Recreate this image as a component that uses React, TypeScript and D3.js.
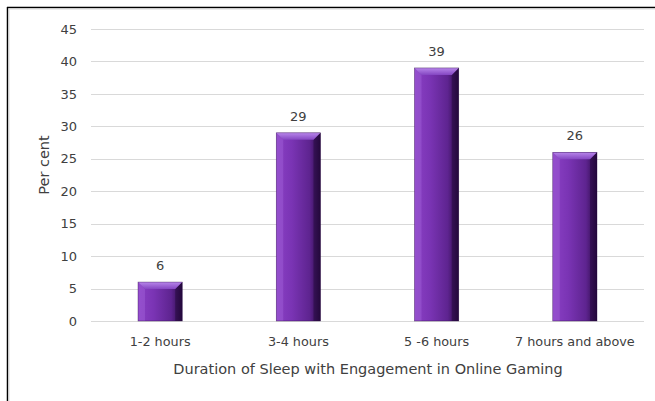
import React from "react";
import * as d3 from "d3";

const categories = ["1-2 hours", "3-4 hours", "5 -6 hours", "7 hours and above"];
const values = [6, 29, 39, 26];
const yTicks = [0, 5, 10, 15, 20, 25, 30, 35, 40, 45];
const xTitle = "Duration of Sleep with Engagement in Online Gaming";
const yTitle = "Per cent";

const W = 655;
const H = 401;
const FONT = "'DejaVu Sans', Verdana, sans-serif";
const TEXT = "#404040";

export default function App() {
  const x = d3
    .scaleBand<string>()
    .domain(categories)
    .range([91, 644])
    .paddingInner(0.68)
    .paddingOuter(0.34);
  const y = d3.scaleLinear().domain([0, 45]).range([321, 29]);
  const bw = x.bandwidth();
  const bevel = 7;

  return (
    <svg
      width={W}
      height={H}
      style={{ position: "absolute", left: 0, top: 0, background: "#fff" }}
    >
      <defs>
        <linearGradient id="barBody" x1="0" x2="1" y1="0" y2="0">
          <stop offset="0" stopColor="#8a40c4" />
          <stop offset="0.35" stopColor="#7a34b4" />
          <stop offset="0.75" stopColor="#5e2490" />
          <stop offset="1" stopColor="#2a0a44" />
        </linearGradient>
        <linearGradient id="barTop" x1="0" x2="0" y1="0" y2="1">
          <stop offset="0" stopColor="#b886ea" />
          <stop offset="1" stopColor="#8446c2" />
        </linearGradient>
      </defs>

      {/* chart frame */}
      <line x1={7} x2={W} y1={7.5} y2={7.5} stroke="#000" strokeWidth={1.5} />
      <line x1={7.5} x2={7.5} y1={7} y2={H} stroke="#000" strokeWidth={1.5} />
      <line x1={8.5} x2={W} y1={9} y2={9} stroke="#d9d9d9" strokeWidth={1} />
      <line x1={9} x2={9} y1={8.5} y2={H} stroke="#d9d9d9" strokeWidth={1} />

      {/* gridlines and y tick labels */}
      {yTicks.map((t) => (
        <g key={t}>
          <line
            x1={91}
            x2={644}
            y1={Math.round(y(t)) + 0.5}
            y2={Math.round(y(t)) + 0.5}
            stroke="#d9d9d9"
            strokeWidth={1.2}
          />
          <text
            x={77}
            y={y(t)}
            dy="0.36em"
            textAnchor="end"
            fontFamily={FONT}
            fontSize={13}
            fill={TEXT}
          >
            {t}
          </text>
        </g>
      ))}

      {/* bevelled bars */}
      {categories.map((c, i) => {
        const x0 = x(c)!;
        const top = y(values[i]);
        const base = y(0);
        return (
          <g key={c}>
            <rect x={x0} y={top} width={bw} height={base - top} fill="url(#barBody)" />
            <polygon
              points={`${x0},${top} ${x0 + bevel},${top + bevel} ${x0 + bevel},${base} ${x0},${base}`}
              fill="#a466dc"
              opacity={0.4}
            />
            <polygon
              points={`${x0 + bw},${top} ${x0 + bw - bevel},${top + bevel} ${x0 + bw - bevel},${base} ${x0 + bw},${base}`}
              fill="#1c0630"
              opacity={0.45}
            />
            <polygon
              points={`${x0},${top} ${x0 + bw},${top} ${x0 + bw - bevel},${top + bevel} ${x0 + bevel},${top + bevel}`}
              fill="url(#barTop)"
            />
            <rect x={x0} y={top} width={bw} height={base - top} fill="none" stroke="#2a0a44" strokeWidth={0.6} opacity={0.6} />
            <text
              x={x0 + bw / 2}
              y={top - 12}
              textAnchor="middle"
              fontFamily={FONT}
              fontSize={13}
              fill={TEXT}
            >
              {values[i]}
            </text>
            <text
              x={x0 + bw / 2}
              y={346}
              textAnchor="middle"
              fontFamily={FONT}
              fontSize={12.8}
              fill={TEXT}
            >
              {c}
            </text>
          </g>
        );
      })}

      {/* axis titles */}
      <text
        x={368}
        y={374}
        textAnchor="middle"
        fontFamily={FONT}
        fontSize={14.5}
        fill={TEXT}
      >
        {xTitle}
      </text>
      <text
        transform={`translate(49,165) rotate(-90)`}
        textAnchor="middle"
        fontFamily={FONT}
        fontSize={14.5}
        fill={TEXT}
      >
        {yTitle}
      </text>
    </svg>
  );
}
